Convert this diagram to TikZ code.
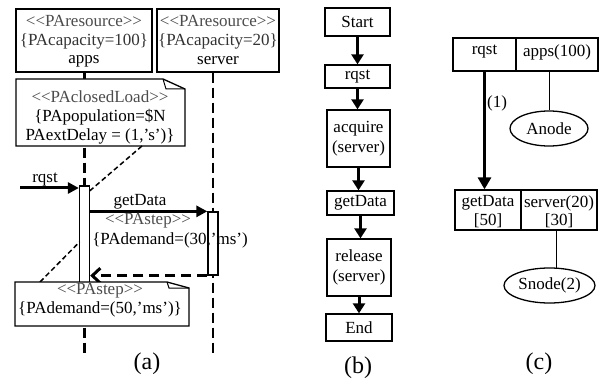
\documentclass[tikz,border=0pt]{standalone}
\usepackage{fontspec}
\setmainfont{Liberation Serif}
\usetikzlibrary{arrows.meta,shapes.geometric}
\definecolor{stereo}{gray}{0.3}
\definecolor{stereob}{gray}{0.2}
\begin{document}
\begin{tikzpicture}[x=1pt,y=-1pt,
  every node/.style={font=\fontsize{17}{20}\selectfont, inner sep=0pt},
  box/.style={draw, line width=1.3pt, fill=white, inner sep=0pt},
  bbox/.style={draw, line width=2.4pt, fill=white, inner sep=0pt},
  st/.style={text=stereo},
  stb/.style={text=stereob},
  lifeline/.style={line width=2.5pt, dash pattern=on 10pt off 5pt},
  conn/.style={line width=1.5pt, dash pattern=on 5pt off 3pt},
  notebox/.style={draw, line width=1.3pt, fill=white, line join=miter},
  msg/.style={line width=3pt, -{Triangle[length=11pt,width=11pt]}},
  ret/.style={line width=3pt, dash pattern=on 10pt off 6pt, -{Straight Barb[length=8pt,width=15pt,line width=3pt]}},
  farrow/.style={line width=3pt, -{Triangle[length=10pt,width=12pt]}},
  thin/.style={line width=1pt},
  caption/.style={font=\fontsize{24}{28}\selectfont}]
\useasboundingbox (0,0) rectangle (602,382);

% ---------------- (a) ----------------
\coordinate (aend) at (84.5,353);
\coordinate (send) at (213,353);
\node[box, minimum width=136pt, minimum height=63pt] (apps) at (84,40.5) {};
\node[box, minimum width=122pt, minimum height=63pt] (server) at (218,40.5) {};
\draw[lifeline] (apps.south -| aend) -- (aend);
\draw[lifeline] (server.south -| send) -- (send);
\node[st] (apps1) at (84,21) {{<}{<}PAresource{>}{>}};
\node[stb] (apps2) at (84,41) {\{PAcapacity=100\}};
\node (apps3) at (84,61) {apps};
\node[st] (srv1) at (218,21) {{<}{<}PAresource{>}{>}};
\node[stb] (srv2) at (218,41) {\{PAcapacity=20\}};
\node (srv3) at (218,61) {server};

% closed load note
\coordinate (n1c) at (142,146);
\draw[notebox] (16,79) -- (163,79) -- (185,89) -- (185,146) -- (16,146) -- cycle;
\draw[line width=1pt] (163,79) -- (166,89) -- (185,89);
\node[st] (cl1) at (100,97) {{<}{<}PAclosedLoad{>}{>}};
\node (cl2) at (100,117) {\{PApopulation=\$N};
\node (cl3) at (100,136) {PAextDelay = (1,’s’)\}};

% activation bars
\draw[conn] (n1c) -- (89,191.5);
\node[box, minimum width=10pt, minimum height=99pt] (abar) at (84.5,235.5) {};
\node[box, minimum width=10pt, minimum height=63pt] (sbar) at (213,243.5) {};

% messages
\coordinate (rqsrc) at (20,188);
\draw[msg] (rqsrc) -- (abar.west |- rqsrc);
\node (rqlbl) at (45,180) {rqst};
\draw[msg] (abar.east |- sbar.north) -- (sbar.north west);
\node (gdlbl) at (140,202) {getData};
\node[st] (ps1) at (148,221) {{<}{<}PAstep{>}{>}};
\node (ps2) at (170,240) {\{PAdemand=(30,’ms’)};
\draw[ret] (sbar.south west) -- (abar.east |- sbar.south);

% step note
\coordinate (n2c) at (40,282);
\draw[conn] (n2c) -- (79.5,242);
\draw[notebox] (15,282) -- (167,282) -- (189,288) -- (189,326) -- (15,326) -- cycle;
\draw[line width=1pt] (167,282) -- (169,288) -- (189,288);
\node[st] (st1) at (100,291) {{<}{<}PAstep{>}{>}};
\node (st2) at (100,309) {\{PAdemand=(50,’ms’)\}};

\node[caption] (capa) at (147,364) {(a)};

% ---------------- (b) ----------------
\node[box, minimum width=65pt, minimum height=28pt] (b1) at (357.5,22) {Start};
\node[box, minimum width=65pt, minimum height=23pt] (b2) at (357.5,76.5) {rqst};
\node[box, minimum width=63pt, minimum height=57pt, align=center] (b3) at (358.5,138.5) {acquire\\(server)};
\node[box, minimum width=67pt, minimum height=24pt] (b4) at (360.5,203) {getData};
\node[box, minimum width=64pt, minimum height=57pt, align=center] (b5) at (359,267.5) {release\\(server)};
\node[box, minimum width=66pt, minimum height=27pt] (b6) at (359,327.5) {End};
\draw[farrow] (b1.south) -- (b1.south |- b2.north);
\draw[farrow] (b2.south) -- (b2.south |- b3.north);
\draw[farrow] (b3.south) -- (b3.south |- b4.north);
\draw[farrow] (b4.south) -- (b4.south |- b5.north);
\draw[farrow] (b5.south) -- (b5.south |- b6.north);
\node[caption] (capb) at (358,368) {(b)};

% ---------------- (c) ----------------
\node[box, minimum width=63pt, minimum height=33pt] (rqc) at (484.5,54.5) {};
\node[bbox, minimum width=82pt, minimum height=33pt] (apc) at (557,54.5) {};
\node (rqct) at (484.5,52) {rqst};
\node (apct) at (557,52) {apps(100)};
\node[box, minimum width=66pt, minimum height=40pt] (gdc) at (488,210) {};
\node[bbox, minimum width=76pt, minimum height=40pt] (svc) at (559,210) {};
\node (gdct1) at (488,203) {getData};
\node (gdct2) at (488,221) {[50]};
\node (svct1) at (559,203) {server(20)};
\node (svct2) at (559,221) {[30]};
\node[draw, ellipse, line width=1.3pt, minimum width=78pt, minimum height=35pt] (anode) at (549,128.5) {Anode};
\node[draw, ellipse, line width=1.3pt, minimum width=91pt, minimum height=35pt] (snode) at (549.5,285.5) {Snode(2)};
\draw[line width=3.5pt, -{Triangle[length=12pt,width=13pt]}] (rqc.south) -- (rqc.south |- gdc.north);
\node (one) at (497,103) {(1)};
\draw[thin] (anode.north |- apc.south) -- (anode.north);
\draw[thin] (snode.70 |- svc.south) -- (snode.70);
\node[caption] (capc) at (539,364) {(c)};
\end{tikzpicture}
\end{document}
